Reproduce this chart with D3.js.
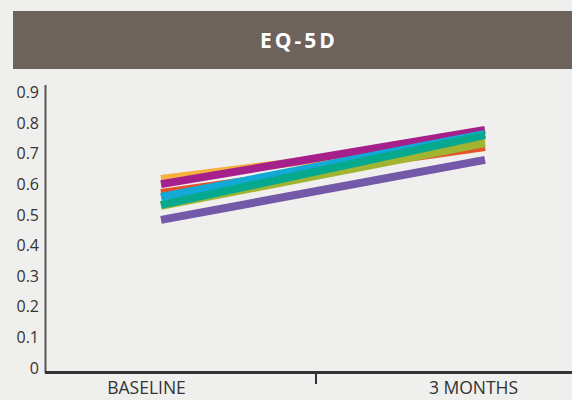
<!DOCTYPE html>
<html><head><meta charset="utf-8">
<script src="https://cdn.jsdelivr.net/npm/d3@7"></script>
<style>body{margin:0;background:#efefed;}svg{display:block;}</style>
</head><body>
<svg id="c" width="572" height="400"></svg>
<script>
const title = "EQ-5D";
const categories = ["BASELINE", "3 MONTHS"];
const yTicks = [0, 0.1, 0.2, 0.3, 0.4, 0.5, 0.6, 0.7, 0.8, 0.9];
const seriesNames = ["A", "B", "C", "D", "E", "F", "G"];
const seriesColors = ["#f6b13d", "#e4532a", "#a2b533", "#a5208a", "#12a9d6", "#06a88e", "#7359a8"];
const baselineValues = [0.618, 0.572, 0.530, 0.601, 0.559, 0.533, 0.484];
const monthValues = [0.750, 0.722, 0.735, 0.778, 0.765, 0.761, 0.680];

const svg = d3.select("#c");
svg.append("rect").attr("x", 13).attr("y", 11).attr("width", 559).attr("height", 58).attr("fill", "#6e625d");
svg.append("text").attr("x", 299).attr("y", 48).attr("text-anchor", "middle")
  .attr("fill", "#fff").attr("font-family", "Open Sans, sans-serif").attr("font-weight", 700)
  .attr("font-size", 21).attr("letter-spacing", 3).text(title);

const y = d3.scaleLinear().domain([0, 0.9]).range([368, 92.6]);
const x = d3.scalePoint().domain(categories).range([161, 485]);

// y axis line
svg.append("line").attr("x1", 45.5).attr("x2", 45.5).attr("y1", 85).attr("y2", 373)
  .attr("stroke", "#555").attr("stroke-width", 2);
const yAxis = d3.axisLeft(y).tickValues(yTicks).tickSize(0).tickPadding(0)
  .tickFormat(d => d === 0 ? "0" : d3.format(".1f")(d));
const gy = svg.append("g").attr("transform", "translate(39,0)").call(yAxis);
gy.select(".domain").remove();
gy.selectAll("text").attr("font-family", "Open Sans, sans-serif").attr("font-size", 16)
  .attr("fill", "#333").attr("font-weight", 400);

// series lines
const data = seriesNames.map((n, i) => ({name: n, color: seriesColors[i], vals: [baselineValues[i], monthValues[i]]}));
const line = d3.line().x((d, i) => x(categories[i])).y(d => y(d));
svg.selectAll("path.s").data(data).join("path").attr("class", "s")
  .attr("d", d => line(d.vals)).attr("stroke", d => d.color).attr("stroke-width", 8)
  .attr("fill", "none").attr("stroke-linecap", "butt");

// x axis
svg.append("line").attr("x1", 45).attr("x2", 572).attr("y1", 372.5).attr("y2", 372.5)
  .attr("stroke", "#333").attr("stroke-width", 3);
svg.append("line").attr("x1", 316).attr("x2", 316).attr("y1", 373).attr("y2", 384)
  .attr("stroke", "#333").attr("stroke-width", 2);
const xl = d3.scalePoint().domain(categories).range([146, 473]);
const xAxis = d3.axisBottom(xl).tickSize(0).tickPadding(0);
const gx = svg.append("g").attr("transform", "translate(0,382)").call(xAxis);
gx.select(".domain").remove();
gx.selectAll("text").attr("font-family", "Open Sans, sans-serif").attr("font-size", 17.5)
  .attr("fill", "#333").attr("font-weight", 400);
</script>
</body></html>
